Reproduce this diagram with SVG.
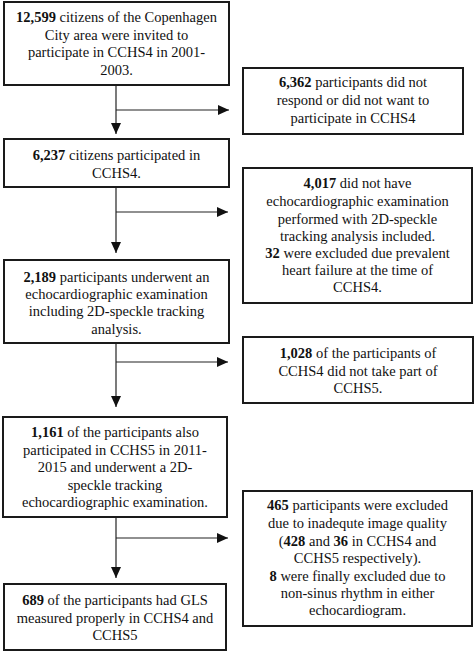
<svg xmlns="http://www.w3.org/2000/svg" width="474" height="653" viewBox="0 0 474 653">
<style>
.box{fill:#fff;stroke:#1a1a1a;stroke-width:2}
text{font-family:"Liberation Serif","Times New Roman",serif;font-size:14.5px;fill:#111;text-anchor:middle}
.b{font-weight:bold}
.c{stroke:#222;stroke-width:1.2;fill:none}
</style>
<defs>
<marker id="ah" markerUnits="userSpaceOnUse" markerWidth="12" markerHeight="10" refX="11" refY="5" orient="auto">
<path d="M0,0 L11,5 L0,10 Z" fill="#111"/>
</marker>
</defs>
<rect width="474" height="653" fill="#fff"/>
<g id="connectors">
<path class="c" d="M116,85 V134" marker-end="url(#ah)"/>
<path class="c" d="M116,110 H229" marker-end="url(#ah)"/>
<path class="c" d="M116,187 V253" marker-end="url(#ah)"/>
<path class="c" d="M116,212 H228" marker-end="url(#ah)"/>
<path class="c" d="M116,343 V407" marker-end="url(#ah)"/>
<path class="c" d="M116,362 H228" marker-end="url(#ah)"/>
<path class="c" d="M116,517 V578" marker-end="url(#ah)"/>
<path class="c" d="M116,538 H228" marker-end="url(#ah)"/>
</g>
<g id="n1">
<rect class="box" x="4" y="2" width="225" height="83"/>
<text x="116.5" y="22"><tspan class="b">12,599</tspan> citizens of the Copenhagen</text>
<text x="116.5" y="39.5">City area were invited to</text>
<text x="116.5" y="57">participate in CCHS4 in 2001-</text>
<text x="116.5" y="74.5">2003.</text>
</g>
<g id="n2">
<rect class="box" x="243" y="68" width="220" height="66"/>
<text x="353" y="87"><tspan class="b">6,362</tspan> participants did not</text>
<text x="353" y="105">respond or did not want to</text>
<text x="353" y="123">participate in CCHS4</text>
</g>
<g id="n3">
<rect class="box" x="4" y="139" width="225" height="48"/>
<text x="116.5" y="160"><tspan class="b">6,237</tspan> citizens participated in</text>
<text x="116.5" y="178">CCHS4.</text>
</g>
<g id="n4">
<rect class="box" x="243" y="168" width="229" height="135"/>
<text x="357.5" y="188"><tspan class="b">4,017</tspan> did not have</text>
<text x="357.5" y="206">echocardiographic examination</text>
<text x="357.5" y="223.5">performed with 2D-speckle</text>
<text x="357.5" y="241">tracking analysis included.</text>
<text x="357.5" y="258"><tspan class="b">32</tspan> were excluded due prevalent</text>
<text x="357.5" y="275">heart failure at the time of</text>
<text x="357.5" y="292">CCHS4.</text>
</g>
<g id="n5">
<rect class="box" x="4" y="260" width="225" height="83"/>
<text x="116.5" y="281.5"><tspan class="b">2,189</tspan> participants underwent an</text>
<text x="116.5" y="299">echocardiographic examination</text>
<text x="116.5" y="316">including 2D-speckle tracking</text>
<text x="116.5" y="333.5">analysis.</text>
</g>
<g id="n6">
<rect class="box" x="243" y="337" width="230" height="66"/>
<text x="358" y="358"><tspan class="b">1,028</tspan> of the participants of</text>
<text x="358" y="376">CCHS4 did not take part of</text>
<text x="358" y="393">CCHS5.</text>
</g>
<g id="n7">
<rect class="box" x="3" y="417" width="224" height="100"/>
<text x="115" y="437"><tspan class="b">1,161</tspan> of the participants also</text>
<text x="115" y="454.5">participated in CCHS5 in 2011-</text>
<text x="115" y="472">2015 and underwent a 2D-</text>
<text x="115" y="489.5">speckle tracking</text>
<text x="115" y="507">echocardiographic examination.</text>
</g>
<g id="n8">
<rect class="box" x="243" y="491" width="229" height="135"/>
<text x="357.5" y="510"><tspan class="b">465</tspan> participants were excluded</text>
<text x="357.5" y="528">due to inadequte image quality</text>
<text x="357.5" y="545.5">(<tspan class="b">428</tspan> and <tspan class="b">36</tspan> in CCHS4 and</text>
<text x="357.5" y="563">CCHS5 respectively).</text>
<text x="357.5" y="580.5"><tspan class="b">8</tspan> were finally excluded due to</text>
<text x="357.5" y="598">non-sinus rhythm in either</text>
<text x="357.5" y="615">echocardiogram.</text>
</g>
<g id="n9">
<rect class="box" x="4" y="584" width="222" height="66"/>
<text x="115" y="605"><tspan class="b">689</tspan> of the participants had GLS</text>
<text x="115" y="622.5">measured properly in CCHS4 and</text>
<text x="115" y="640">CCHS5</text>
</g>
</svg>
